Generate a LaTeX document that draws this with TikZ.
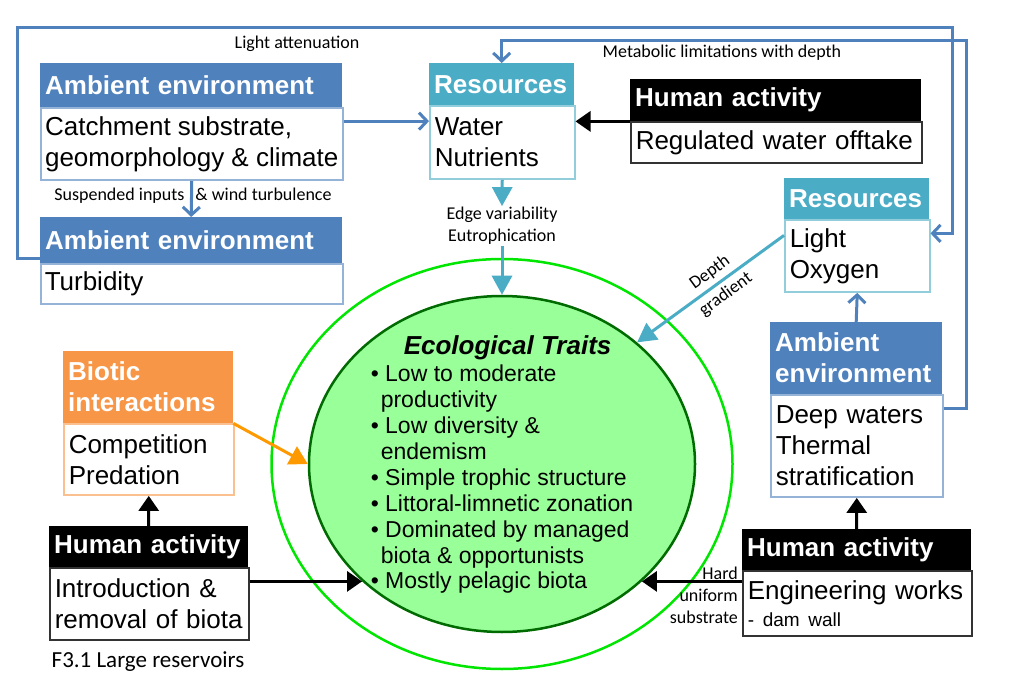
\documentclass[tikz,border=0pt]{standalone}
\usepackage{fontspec}
\setmainfont{Liberation Sans}
\newfontfamily\lblfont{Carlito}
\usetikzlibrary{arrows.meta,shapes.geometric}
\definecolor{ambblue}{HTML}{4F81BD}
\definecolor{amblite}{HTML}{95B3D7}
\definecolor{resteal}{HTML}{4BACC6}
\definecolor{reslite}{HTML}{92CDDC}
\definecolor{bioorange}{HTML}{F79646}
\definecolor{biolite}{HTML}{FAC090}
\definecolor{arrorange}{HTML}{FF9900}
\definecolor{rimgreen}{HTML}{00E600}
\definecolor{traitfill}{HTML}{99FF99}
\definecolor{traitline}{HTML}{006B00}
\tikzset{
  boxhdr/.style={anchor=north west, inner xsep=5pt, inner ysep=0pt, align=left, text=white,
    font=\fontsize{26}{31}\selectfont\bfseries},
  boxbody/.style={anchor=north west, inner xsep=5pt, inner ysep=0pt, align=left, fill=white,
    line width=1.5pt, font=\fontsize{26}{31}\selectfont},
  lbl/.style={inner sep=1pt, align=center, font=\lblfont\fontsize{18}{22}\selectfont},
  envline/.style={draw=ambblue, line width=3pt},
  envarr/.style={envline, -{Straight Barb[length=8pt,width=17pt]}},
  resarr/.style={draw=resteal, line width=3pt, -{Triangle[length=19pt,width=20pt]}},
  humarr/.style={draw=black, line width=3pt, -{Triangle[length=15pt,width=20pt]}},
  bioarr/.style={draw=arrorange, line width=3pt, -{Triangle[length=18pt,width=20pt]}}
}
\begin{document}
\begin{tikzpicture}[x=1pt,y=-1pt]
\useasboundingbox (0,0) rectangle (1011,700);

\node[ellipse, draw=rimgreen, line width=2.5pt, minimum width=461pt, minimum height=410pt] (rim) at (502,464) {};
\node[ellipse, draw=traitline, fill=traitfill, line width=2.5pt, minimum width=386pt, minimum height=336pt] (traits) at (502,464) {};
\node[align=left, inner sep=0pt, font=\fontsize{23}{25.9}\selectfont] (traitstxt) at (502,464.5)
  {\hspace*{33pt}{\fontsize{26}{26}\selectfont\bfseries\itshape Ecological Traits}\\[1.8pt]
   \textbullet\ Low to moderate\\
   \hspace*{10pt}productivity\\
   \textbullet\ Low diversity \&\\
   \hspace*{10pt}endemism\\
   \textbullet\ Simple trophic structure\\
   \textbullet\ Littoral-limnetic zonation\\
   \textbullet\ Dominated by managed\\
   \hspace*{10pt}biota \& opportunists\\
   \textbullet\ Mostly pelagic biota};

\node[boxhdr, fill=ambblue, text width=292pt, minimum height=44pt] (a1h) at (40,63) {Ambient environment};
\node[boxbody, draw=amblite, inner xsep=3pt, minimum width=302pt, minimum height=72pt] (a1b) at (a1h.south west) {Catchment substrate,\\geomorphology \& climate};
\node[boxhdr, fill=ambblue, text width=292pt, minimum height=46pt] (a2h) at (40,217) {Ambient environment};
\node[boxbody, draw=amblite, inner xsep=4pt, text width=294pt, minimum height=40pt] (a2b) at (a2h.south west) {Turbidity};
\node[boxhdr, fill=resteal, text width=135pt, minimum height=42pt] (r1h) at (429,63) {Resources};
\node[boxbody, draw=reslite, text width=135pt, minimum height=73pt] (r1b) at (r1h.south west) {Water\\Nutrients};
\node[boxhdr, fill=black, text width=281pt, minimum height=42pt] (h1h) at (630,79) {Human activity};
\node[boxbody, draw=black!80, text width=281pt, minimum height=41pt] (h1b) at (h1h.south west) {Regulated water offtake};
\node[boxhdr, fill=resteal, text width=135pt, minimum height=41pt] (r2h) at (784,178) {Resources};
\node[boxbody, draw=reslite, text width=135pt, minimum height=72pt] (r2b) at (r2h.south west) {Light\\Oxygen};
\node[boxhdr, fill=ambblue, text width=162pt, minimum height=72pt] (a3h) at (770,322) {Ambient\\environment};
\node[boxbody, draw=amblite, text width=162pt, minimum height=102pt] (a3b) at (a3h.south west) {Deep waters\\Thermal\\stratification};
\node[boxhdr, fill=bioorange, text width=160pt, minimum height=72pt] (bioh) at (63,351) {Biotic\\interactions};
\node[boxbody, draw=biolite, text width=160pt, minimum height=71pt] (biob) at (bioh.south west) {Competition\\Predation};
\node[boxhdr, fill=black, text width=189pt, minimum height=41pt] (h2h) at (49,526) {Human activity};
\node[boxbody, draw=black!80, text width=189pt, minimum height=72pt] (h2b) at (h2h.south west) {Introduction \&\\removal of biota};
\node[boxhdr, fill=black, text width=219pt, minimum height=41pt] (h3h) at (742,529) {Human activity};
\node[boxbody, draw=black!80, text width=219pt, minimum height=65pt] (h3b) at (h3h.south west) {Engineering works\\[-4pt]{\fontsize{19}{22}\selectfont\mbox{- dam wall}}};

\draw[envarr] ([yshift=-18pt]a2h.west) -- ++(-23,0) |- (952,28) |- ([yshift=-14pt]r2b.north east);
\draw[envarr] ([yshift=-14pt]a3b.north east) -| (966,41) -| (r1h.north);
\draw[envarr] ([yshift=23pt]a1b.east) -- ([yshift=23pt]a1b.east -| r1b.west);
\draw[envarr] (a1b.south) -- (a2h.north);
\draw[envarr] (a3h.north) -- (r2b.south);
\node[lbl] (lightlbl) at (297,44) {Light attenuation};
\node[lbl] (metablbl) at (722,53) {Metabolic limitations with depth};
\node[lbl] (susplbl) at (193,196) {Suspended inputs\hspace{11pt}\& wind turbulence};

\node[lbl] (edgelbl) at (502,226) {Edge variability\\Eutrophication};
\draw[resarr] (r1b.south) -- (edgelbl.north);
\draw[resarr] (edgelbl.south) -- (traits.north);
\draw[resarr] ([yshift=-16pt]r2b.north west) -- node[lbl, pos=0.45, sloped] (depthlbl) {Depth\\[5pt]gradient} (traits.42);

\draw[humarr] (h1h.south west) -- (h1h.south west -| r1b.east);
\draw[humarr] (h2h.north) -- (biob.south);
\draw[humarr] (h3h.north) -- (a3b.south);
\draw[humarr] (h2b.east |- traits.220) -- (traits.220);
\draw[humarr] (h3b.west |- traits.320) -- (traits.320);
\draw[bioarr] (bioh.south east) -- (traits.west);
\node[lbl, anchor=north east, align=right] (hardlbl) at (739,566) {Hard\\uniform\\substrate};

\node[lbl, font=\lblfont\fontsize{23}{26}\selectfont] (caption) at (148,662) {F3.1 Large reservoirs};
\end{tikzpicture}
\end{document}
